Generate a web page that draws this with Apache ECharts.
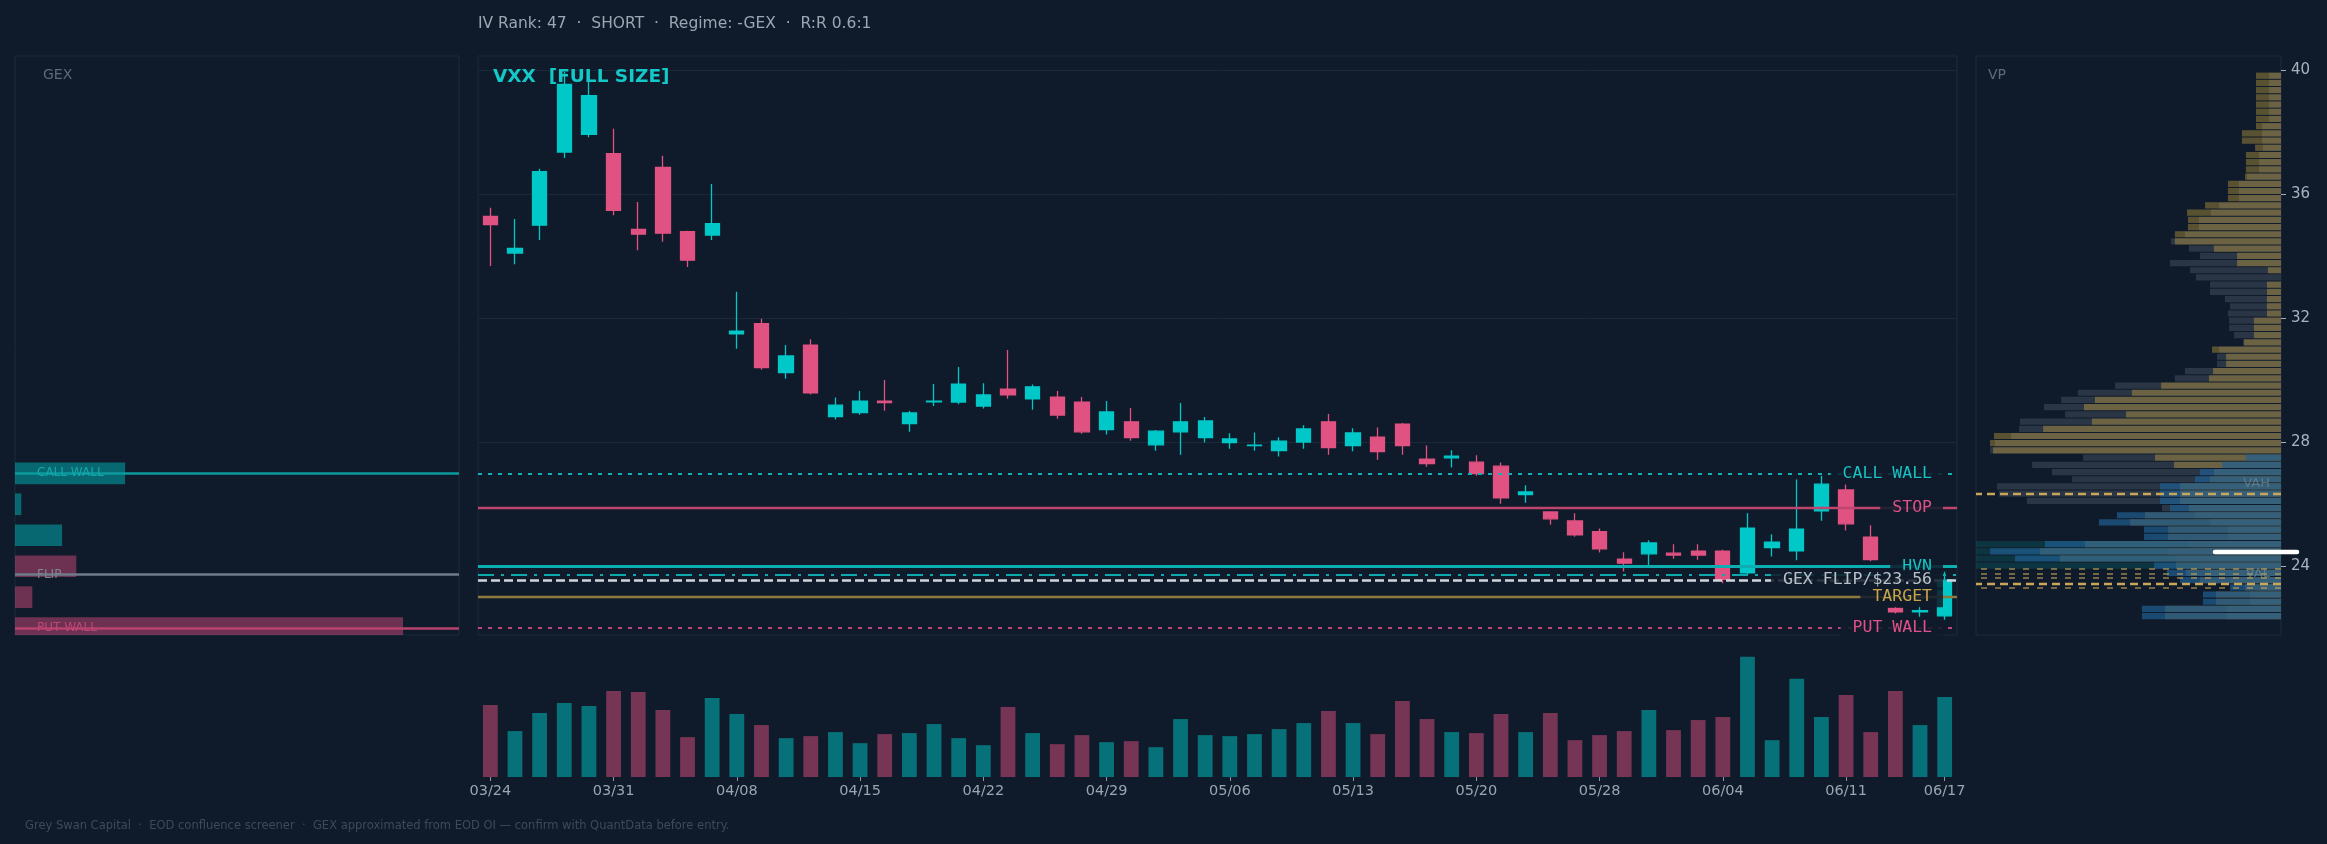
<!DOCTYPE html>
<html>
<head>
<meta charset="utf-8">
<title>VXX confluence</title>
<style>
  html, body { margin: 0; padding: 0; background: #0f1b2a; }
  #echart { width: 2327px; height: 844px; }
</style>
<script src="https://cdn.jsdelivr.net/npm/echarts@6/dist/echarts.min.js"></script>
</head>
<body>
<div id="echart"></div>
<script>
// ---- data ----
var dates = ['03/24', '03/25', '03/26', '03/27', '03/28', '03/31', '04/01', '04/02', '04/03', '04/04',
    '04/08', '04/09', '04/10', '04/11', '04/14', '04/15', '04/16', '04/17', '04/18', '04/21',
    '04/22', '04/23', '04/24', '04/25', '04/28', '04/29', '04/30', '05/01', '05/02', '05/05',
    '05/06', '05/07', '05/08', '05/09', '05/12', '05/13', '05/14', '05/15', '05/16', '05/19',
    '05/20', '05/21', '05/22', '05/23', '05/27', '05/28', '05/29', '05/30', '06/02', '06/03',
    '06/04', '06/05', '06/06', '06/09', '06/10', '06/11', '06/12', '06/13', '06/16', '06/17'];

var opens = [35.29, 34.11, 35.01, 37.37, 37.94, 37.32, 34.87, 36.87, 34.80, 34.69,
    31.50, 31.83, 30.25, 31.14, 28.83, 28.96, 29.33, 28.60, 29.31, 29.30,
    29.17, 29.72, 29.40, 29.46, 29.30, 28.41, 28.66, 27.92, 28.34, 28.15,
    27.99, 27.89, 27.73, 28.01, 28.66, 27.89, 28.17, 28.59, 27.46, 27.50,
    27.36, 27.23, 26.31, 25.75, 25.46, 25.12, 24.23, 24.40, 24.42, 24.49,
    24.49, 23.79, 24.60, 24.50, 25.79, 26.46, 24.94, 22.64, 22.53, 22.40];
var closes = [35.03, 34.26, 36.74, 39.55, 39.19, 35.49, 34.72, 34.75, 33.88, 35.06,
    31.59, 30.41, 30.79, 29.60, 29.20, 29.33, 29.28, 28.95, 29.33, 29.88,
    29.53, 29.53, 29.79, 28.88, 28.34, 28.98, 28.15, 28.36, 28.66, 28.69,
    28.11, 27.91, 28.04, 28.43, 27.83, 28.30, 27.70, 27.89, 27.31, 27.55,
    26.99, 26.21, 26.40, 25.53, 25.01, 24.56, 24.10, 24.75, 24.36, 24.36,
    23.58, 25.23, 24.78, 25.20, 26.65, 25.37, 24.21, 22.53, 22.57, 23.55];
var lows = [33.69, 33.75, 34.53, 37.18, 37.85, 35.33, 34.20, 34.47, 33.66, 34.53,
    31.02, 30.34, 30.05, 29.54, 28.74, 28.89, 29.02, 28.34, 29.17, 29.23,
    29.09, 29.41, 29.05, 28.76, 28.28, 28.25, 28.05, 27.73, 27.60, 27.99,
    27.79, 27.73, 27.54, 27.79, 27.60, 27.71, 27.44, 27.60, 27.21, 27.19,
    26.92, 26.02, 26.05, 25.34, 24.95, 24.44, 23.83, 24.04, 24.24, 24.21,
    23.45, 23.72, 24.31, 24.19, 25.47, 25.15, 24.16, 22.47, 22.37, 22.27];
var highs = [35.57, 35.21, 36.83, 39.95, 39.70, 38.12, 35.76, 37.25, 34.83, 36.34,
    32.86, 31.99, 31.14, 31.33, 29.45, 29.66, 30.01, 29.01, 29.88, 30.43,
    29.91, 30.98, 29.87, 29.66, 29.46, 29.33, 29.11, 28.40, 29.27, 28.82,
    28.29, 28.32, 28.16, 28.55, 28.91, 28.45, 28.48, 28.62, 27.90, 27.74,
    27.58, 27.35, 26.61, 25.77, 25.71, 25.22, 24.45, 24.84, 24.71, 24.71,
    24.53, 25.71, 25.03, 26.80, 26.92, 26.64, 25.32, 22.72, 22.73, 23.82];
// volume, millions of shares
var volumes = [21.5, 13.7, 19.1, 22.1, 21.2, 25.7, 25.4, 20.0, 11.9, 23.6,
    18.8, 15.5, 11.6, 12.2, 13.4, 10.1, 12.8, 13.1, 15.8, 11.6,
    9.5, 20.9, 13.1, 9.8, 12.5, 10.4, 10.7, 8.9, 17.3, 12.5,
    12.2, 12.8, 14.3, 16.1, 19.7, 16.1, 12.8, 22.7, 17.3, 13.4,
    13.1, 18.8, 13.4, 19.1, 11.0, 12.5, 13.7, 20.0, 14.0, 17.0,
    17.9, 35.9, 11.0, 29.3, 17.9, 24.5, 13.4, 25.7, 15.5, 23.9];

// gamma exposure by strike
var gexStrikes = [27, 26, 25, 24, 23, 22];
var gexValues = [24.8, 1.4, 10.6, -13.8, -3.9, -87.4];

// key levels
var callWall = 27.0;
var stopLevel = 25.90;
var hvnLevel = 24.0;
var flipZone = 23.73;
var gexFlip = 23.56;
var targetLevel = 23.0;
var putWall = 22.0;

// volume profile: 76 price bins from 39.95 down to 22.27 (rows listed top to bottom, % of panel)
var vpTop = 39.95;
var vpBin = 0.2326;
var vpTotal = [3.9, 3.9, 3.9, 3.9, 3.9, 3.9, 3.9, 6.2, 6.2, 6.2,
    5.9, 7.2, 7.2, 7.2, 11.1, 13.8, 13.8, 13.8, 20.3, 23.0,
    26.9, 26.9, 31.5, 36.1, 30.2, 26.6, 36.4, 29.8, 27.9, 23.3,
    23.3, 18.4, 16.7, 17.4, 17.0, 17.0, 15.4, 12.5, 20.3, 21.0,
    21.0, 31.5, 34.8, 54.4, 66.6, 72.1, 77.7, 70.8, 85.6, 85.9,
    88.5, 93.8, 95.4, 64.9, 81.6, 75.1, 68.5, 93.1, 92.5, 83.3,
    39.0, 28.2, 23.3, 17.4, 17.4, 30.5, 37.0, 34.1, 26.6, 23.3,
    16.7, 6.9, 10.2, 10.2, 17.7, 17.7];
var vpEarly = [8.2, 8.2, 8.2, 8.2, 8.2, 8.2, 8.2, 8.2, 12.8, 12.8,
    8.5, 11.5, 11.5, 11.5, 11.8, 17.4, 17.4, 17.4, 24.9, 30.8,
    30.5, 30.5, 34.8, 34.8, 22.0, 14.4, 14.4, 4.3, 0, 4.6,
    4.6, 4.6, 4.6, 4.6, 8.9, 8.9, 8.9, 12.1, 22.6, 18.0,
    18.0, 22.3, 23.6, 39.3, 48.9, 61.0, 64.6, 50.8, 62.0, 78.0,
    94.1, 95.4, 94.4, 41.3, 35.1, 22.0, 23.3, 33.1, 33.1, 33.1,
    30.2, 44.6, 49.5, 37.0, 37.0, 64.3, 79.0, 72.5, 34.4, 31.1,
    26.6, 11.8, 21.3, 21.3, 38.0, 38.0];
var vpRecent = [0, 0, 0, 0, 0, 0, 0, 0, 0, 0,
    0, 0, 0, 0, 0, 0, 0, 0, 0, 0,
    0, 0, 0, 0, 0, 0, 0, 0, 0, 0,
    0, 0, 0, 0, 0, 0, 0, 0, 0, 0,
    0, 0, 0, 0, 0, 0, 0, 0, 0, 0,
    0, 0, 0, 11.5, 19.3, 26.6, 28.2, 39.7, 39.7, 39.7,
    36.4, 53.8, 59.7, 44.9, 44.9, 77.4, 95.4, 87.2, 41.6, 37.4,
    33.1, 16.7, 25.6, 25.6, 45.6, 45.6];
var hvnRows = [65, 66, 67, 68];
var vah = 26.35;
var val = 23.45;
var vaGuides = [23.91, 23.76, 23.62, 23.31];
var poc = 24.46;

var priceTicks = [24, 28, 32, 36, 40];
var yMin = 21.78, yMax = 40.47;

// ---- chart ----
var chartDom = document.getElementById('echart');
var myChart = echarts.init(chartDom);

var bg = '#0f1b2a';
var upColor = '#00c8c8';
var downColor = '#e05282';
var frameColor = '#1c2a3a';

function vpCenter(r) {
    return vpTop - (r + 0.5) * vpBin;
}

function rectBetween(api, x0, y0, x1, y1) {
    var a = api.coord([x0, y0]);
    var b = api.coord([x1, y1]);
    return {
        x: Math.min(a[0], b[0]),
        y: Math.min(a[1], b[1]),
        width: Math.abs(a[0] - b[0]),
        height: Math.abs(a[1] - b[1])
    };
}

function renderVp(fill) {
    return function (params, api) {
        var len = api.value(1);
        if (!(len > 0)) return null;
        var c = api.value(0);
        return {
            type: 'rect',
            shape: rectBetween(api, 0, c + vpBin * 0.43, len, c - vpBin * 0.43),
            style: { fill: fill }
        };
    };
}

function renderGex(params, api) {
    var s = api.value(0);
    var g = api.value(2);
    return {
        type: 'rect',
        shape: rectBetween(api, 0, s + 0.35, api.value(1), s - 0.35),
        style: { fill: g >= 0 ? 'rgba(0,200,200,0.45)' : 'rgba(224,80,128,0.45)' }
    };
}

function renderPoc(params, api) {
    var p = api.coord([0, api.value(0)]);
    return {
        type: 'line',
        shape: { x1: p[0] - 66, y1: p[1], x2: p[0] + 16, y2: p[1] },
        style: { stroke: '#ffffff', lineWidth: 4.5, lineCap: 'round' }
    };
}

function level(y, name, lineColor, textColor, type, width) {
    return {
        yAxis: y,
        lineStyle: { color: lineColor, type: type, width: width },
        label: name ? { show: true, formatter: name, color: textColor } : { show: false }
    };
}

function showDate(i) {
    return i % 5 === 0 || i === dates.length - 1;
}

var candles = dates.map(function (d, i) {
    return [opens[i], closes[i], lows[i], highs[i]];
});

var volumeBars = volumes.map(function (v, i) {
    return {
        value: v,
        itemStyle: { color: closes[i] >= opens[i] ? 'rgba(0,200,200,0.5)' : 'rgba(224,80,128,0.5)' }
    };
});

function vpRows(arr) {
    return arr.map(function (v, r) { return [vpCenter(r), v]; });
}

var footer = 'Grey Swan Capital  \u00b7  EOD confluence screener  \u00b7  GEX approximated from EOD OI \u2014 confirm with QuantData before entry.';

option = {
    backgroundColor: bg,
    animation: false,
    textStyle: { fontFamily: 'DejaVu Sans' },
    title: [
        { text: 'IV Rank: 47  \u00b7  SHORT  \u00b7  Regime: -GEX  \u00b7  R:R 0.6:1', left: 478, top: 16, padding: 0,
          textStyle: { color: '#9ba6b3', fontSize: 15.5, fontWeight: 'normal' } },
        { text: 'VXX  [FULL SIZE]', left: 493, top: 68, padding: 0,
          textStyle: { color: '#14c8c8', fontSize: 18.5, fontWeight: 'bold' } },
        { text: 'GEX', left: 43, top: 68, padding: 0,
          textStyle: { color: '#5f6a78', fontSize: 14, fontWeight: 'normal' } },
        { text: 'VP', left: 1988, top: 68, padding: 0,
          textStyle: { color: '#5f6a78', fontSize: 14, fontWeight: 'normal' } },
        { text: footer, left: 25, top: 820, padding: 0,
          textStyle: { color: '#3c4a5b', fontSize: 11.5, fontWeight: 'normal' } }
    ],
    grid: [
        { left: 15, top: 56, width: 444, height: 579, show: true, borderColor: frameColor, borderWidth: 1, backgroundColor: 'transparent' },
        { left: 478, top: 56, width: 1479, height: 579, show: true, borderColor: frameColor, borderWidth: 1, backgroundColor: 'transparent' },
        { left: 1976, top: 56, width: 305, height: 579, show: true, borderColor: frameColor, borderWidth: 1, backgroundColor: 'transparent' },
        { left: 478, top: 643, width: 1479, height: 134 }
    ],
    xAxis: [
        { gridIndex: 0, type: 'value', min: 0, max: 100, show: false },
        { gridIndex: 1, type: 'category', data: dates, boundaryGap: true, show: false },
        { gridIndex: 2, type: 'value', min: 0, max: 100, inverse: true, show: false },
        {
            gridIndex: 3, type: 'category', data: dates, boundaryGap: true,
            axisLine: { show: false },
            axisTick: { show: true, alignWithLabel: true, length: 4, interval: showDate, lineStyle: { color: '#8995a3' } },
            axisLabel: { interval: showDate, color: '#9aa5b1', fontSize: 14.5, margin: 7 },
            splitLine: { show: false }
        }
    ],
    yAxis: [
        { gridIndex: 0, type: 'value', min: yMin, max: yMax, show: false },
        {
            gridIndex: 1, type: 'value', min: yMin, max: yMax,
            axisLine: { show: false },
            axisLabel: { show: false, customValues: priceTicks },
            axisTick: { show: false, customValues: priceTicks },
            splitLine: { show: true, lineStyle: { color: '#1a2837', width: 1 } }
        },
        {
            gridIndex: 2, type: 'value', min: yMin, max: yMax, position: 'right',
            axisLine: { show: false },
            axisTick: { show: true, length: 5, customValues: priceTicks, lineStyle: { color: '#a3adb9' } },
            axisLabel: { customValues: priceTicks, color: '#a9b3bf', fontSize: 15, margin: 10 },
            splitLine: { show: false }
        },
        { gridIndex: 3, type: 'value', min: 0, max: 40, show: false }
    ],
    series: [
        {
            name: 'GEX', type: 'custom', xAxisIndex: 0, yAxisIndex: 0, clip: true, silent: true,
            renderItem: renderGex,
            encode: { x: 1, y: 0 },
            data: gexStrikes.map(function (s, i) { return [s, Math.abs(gexValues[i]), gexValues[i]]; }),
            markLine: {
                silent: true, symbol: 'none', animation: false,
                label: { position: 'insideStart', distance: [22, 0], fontSize: 12 },
                data: [
                    level(callWall, 'CALL WALL', '#0d9a9d', '#14a9ab', 'solid', 2.5),
                    level(flipZone, 'FLIP', '#6f7b8a', '#7c8694', 'solid', 2.5),
                    level(putWall, 'PUT WALL', '#b8436f', '#bd4678', 'solid', 2.5)
                ]
            }
        },
        {
            name: 'VXX', type: 'candlestick', xAxisIndex: 1, yAxisIndex: 1, barWidth: '60%',
            data: candles,
            itemStyle: {
                color: upColor, color0: downColor,
                borderColor: upColor, borderColor0: downColor, borderWidth: 1.3
            },
            markLine: {
                silent: true, symbol: 'none', animation: false,
                label: {
                    position: 'insideEnd', distance: [14, 0],
                    fontFamily: 'DejaVu Sans Mono', fontSize: 16.5,
                    backgroundColor: 'rgba(15,27,42,0.86)', padding: [2, 11, 1, 12]
                },
                data: [
                    level(callWall, 'CALL WALL', '#12b0b4', '#17c2c2', [4, 6], 2),
                    level(stopLevel, 'STOP', '#be466e', '#e0508a', 'solid', 2.3),
                    level(hvnLevel, 'HVN', '#0caeb2', '#17c2c2', 'solid', 3),
                    level(flipZone, null, '#0ea9ad', null, [16, 7, 3, 7], 2),
                    level(gexFlip, 'GEX FLIP/$23.56', '#d2d6dc', '#b9c0c8', [9, 4], 2.5),
                    level(targetLevel, 'TARGET', '#8e7a3e', '#c9a548', 'solid', 2.3),
                    level(putWall, 'PUT WALL', '#c0467a', '#e0508a', [4, 6], 2)
                ]
            }
        },
        {
            name: 'Volume', type: 'bar', xAxisIndex: 3, yAxisIndex: 3, barWidth: '60%',
            data: volumeBars
        },
        {
            name: 'HVN band', type: 'custom', xAxisIndex: 2, yAxisIndex: 2, silent: true,
            renderItem: renderVp('rgba(0,200,200,0.15)'),
            encode: { x: 1, y: 0 },
            data: hvnRows.map(function (r) { return [vpCenter(r), 100]; })
        },
        {
            name: 'VP total', type: 'custom', xAxisIndex: 2, yAxisIndex: 2, silent: true,
            renderItem: renderVp('#2a3545'),
            encode: { x: 1, y: 0 },
            data: vpRows(vpTotal)
        },
        {
            name: 'VP early', type: 'custom', xAxisIndex: 2, yAxisIndex: 2, silent: true,
            renderItem: renderVp('rgba(228,187,66,0.35)'),
            encode: { x: 1, y: 0 },
            data: vpRows(vpEarly)
        },
        {
            name: 'VP recent', type: 'custom', xAxisIndex: 2, yAxisIndex: 2, silent: true,
            renderItem: renderVp('rgba(31,94,145,0.7)'),
            encode: { x: 1, y: 0 },
            data: vpRows(vpRecent),
            markLine: {
                silent: true, symbol: 'none', animation: false,
                // x axis is inverted here, so the line starts at the right edge
                label: { position: 'insideStartTop', distance: [11, 3], fontSize: 13, color: 'rgba(130,150,150,0.55)' },
                data: [
                    { yAxis: vah, lineStyle: { color: '#c9a65a', type: [8, 5], width: 2.3 }, label: { show: true, formatter: 'VAH' } },
                    { yAxis: val, lineStyle: { color: '#c9a65a', type: [8, 5], width: 2.3 }, label: { show: true, formatter: 'VAL' } }
                ].concat(vaGuides.map(function (v) {
                    return { yAxis: v, lineStyle: { color: 'rgba(200,165,90,0.75)', type: [6, 8], width: 1.6 }, label: { show: false } };
                }))
            }
        },
        {
            name: 'POC', type: 'custom', xAxisIndex: 2, yAxisIndex: 2, silent: true, z: 6,
            renderItem: renderPoc,
            encode: { y: 0 },
            data: [[poc]]
        }
    ]
};

myChart.setOption(option);

window.addEventListener('resize', function () {
    myChart.resize();
});
</script>
</body>
</html>
